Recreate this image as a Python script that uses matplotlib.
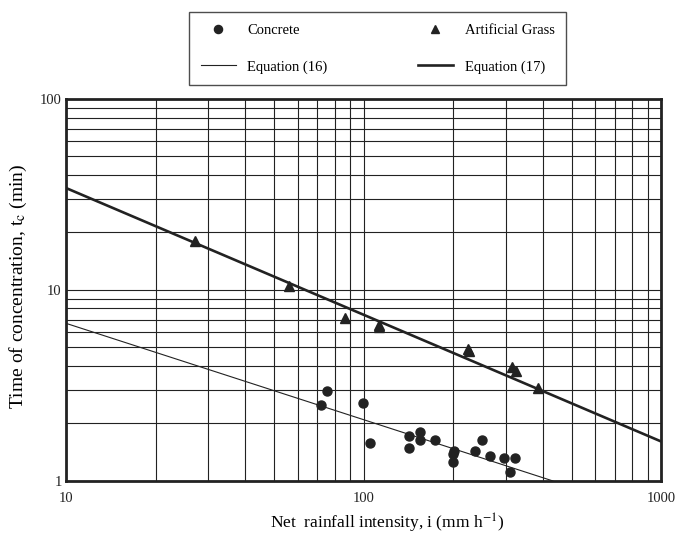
import numpy as np
import matplotlib
matplotlib.use("Agg")
import matplotlib.pyplot as plt
from matplotlib.ticker import FixedLocator, FixedFormatter, NullFormatter, LogLocator

plt.rcParams['font.family'] = ['Liberation Serif', 'DejaVu Serif']
plt.rcParams['mathtext.fontset'] = 'stix'

# concrete surface (i in mm/h, tc in min)
concrete_i = [75.5, 72.2, 99.6, 105, 142, 142, 155, 155, 174, 201, 200, 200,
              236, 250, 266, 297, 324, 310]
concrete_tc = [2.95, 2.50, 2.57, 1.59, 1.72, 1.48, 1.80, 1.63, 1.63, 1.44, 1.38, 1.25,
               1.44, 1.63, 1.35, 1.32, 1.32, 1.11]

# artificial grass
grass_i = [27.1, 56.3, 86.9, 113, 112.5, 224, 226, 315, 325, 387]
grass_tc = [18.1, 10.5, 7.16, 6.53, 6.38, 4.89, 4.79, 3.97, 3.78, 3.07]

# equation lines (end points)
eq16_i = [10, 433]
eq16_tc = [6.69, 1.0]
eq17_i = [10, 1000]
eq17_tc = [34.2, 1.61]

fig = plt.figure(figsize=(6.76, 5.34), dpi=100)
ax = fig.add_axes([0.0976, 0.0993, 0.8804, 0.7153])

ax.set_xscale('log')
ax.set_yscale('log')
ax.set_xlim(10, 1000)
ax.set_ylim(1, 100)

ax.xaxis.set_minor_locator(LogLocator(base=10, subs=np.arange(2, 10)))
ax.yaxis.set_minor_locator(LogLocator(base=10, subs=np.arange(2, 10)))
ax.xaxis.set_major_locator(FixedLocator([10, 100, 1000]))
ax.yaxis.set_major_locator(FixedLocator([1, 10, 100]))
ax.xaxis.set_major_formatter(FixedFormatter(['10', '100', '1000']))
ax.yaxis.set_major_formatter(FixedFormatter(['1', '10', '100']))
ax.xaxis.set_minor_formatter(NullFormatter())
ax.yaxis.set_minor_formatter(NullFormatter())

ax.grid(True, which='both', color='#222222', linewidth=0.8)
ax.tick_params(which='both', length=0, labelsize=10.5, colors='#222222')
ax.tick_params(axis='x', pad=8)
ax.tick_params(axis='y', pad=3)
for s in ax.spines.values():
    s.set_linewidth(2)
    s.set_color('#222222')

l16, = ax.plot(eq16_i, eq16_tc, color='#222222', lw=0.8, label='Equation (16)')
l17, = ax.plot(eq17_i, eq17_tc, color='#222222', lw=1.9, label='Equation (17)')
p1, = ax.plot(concrete_i, concrete_tc, 'o', color='#222222', ms=6.5, ls='none', label='Concrete')
p2, = ax.plot(grass_i, grass_tc, '^', color='#222222', ms=7, ls='none', label='Artificial Grass')

ax.set_xlabel(r'Net  rainfall intensity, i (mm h$^{\mathrm{-1}}$)', fontsize=12.5, labelpad=5)
ax.xaxis.label.set_x(0.54)
ax.set_ylabel(r'Time of concentration, t$_{\mathrm{c}}$ (min)', fontsize=14, labelpad=8)
ax.yaxis.label.set_y(0.51)

leg = fig.legend([p1, l16, p2, l17], ['Concrete', 'Equation (16)', 'Artificial Grass', 'Equation (17)'],
                 ncol=2, loc='upper center', bbox_to_anchor=(0.5585, 0.9775),
                 borderaxespad=0, fontsize=10.5, frameon=True, fancybox=False,
                 edgecolor='#222222', handlelength=2.4, columnspacing=6.2,
                 labelspacing=1.6, borderpad=0.8, handletextpad=0.8, markerscale=0.9)
leg.get_frame().set_linewidth(1.0)

fig.savefig('out.png', dpi=100)
